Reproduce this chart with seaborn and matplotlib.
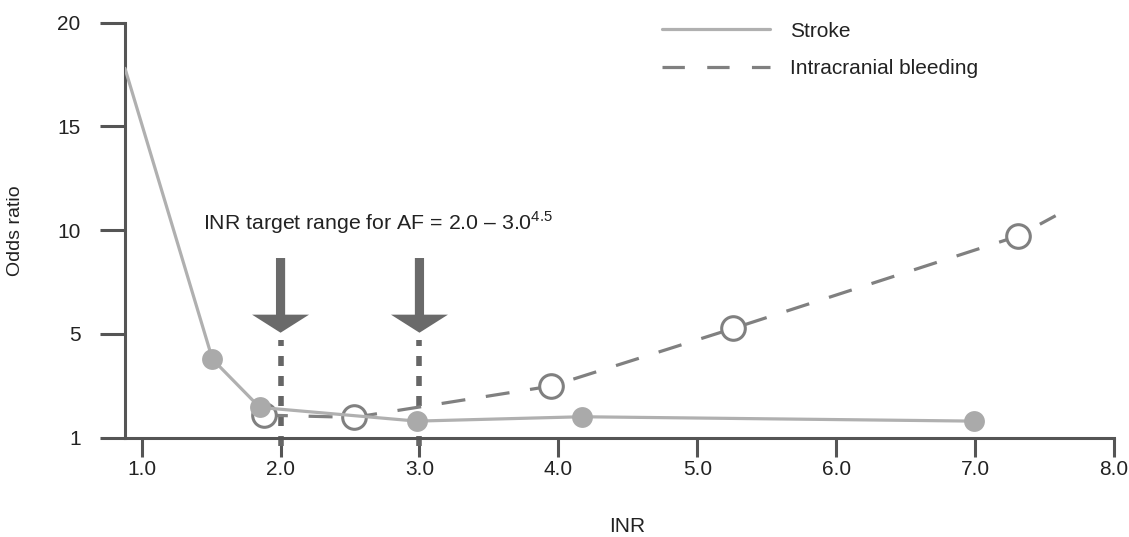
import matplotlib
matplotlib.use('Agg')
import matplotlib.pyplot as plt
from matplotlib.lines import Line2D
import seaborn as sns
import pandas as pd

# 数据：卒中与颅内出血的比值比
stroke_inr = [0.88, 1.51, 1.85, 2.98, 4.17, 6.99]
stroke_or = [17.8, 3.78, 1.46, 0.80, 1.01, 0.80]
bleed_inr = [1.88, 2.53, 3.95, 5.26, 7.31, 7.58]
bleed_or = [1.09, 0.98, 2.49, 5.27, 9.72, 10.7]
target_inr = [2.0, 3.0]
x_ticks = [1.0, 2.0, 3.0, 4.0, 5.0, 6.0, 7.0, 8.0]
y_ticks = [0, 5, 10, 15, 20]
y_ticklabels = ['1', '5', '10', '15', '20']

sns.set_theme(style='white')
plt.rcParams['font.family'] = ['Liberation Sans', 'DejaVu Sans']
plt.rcParams['mathtext.fontset'] = 'custom'
plt.rcParams['mathtext.rm'] = 'Liberation Sans'

axis_col = '#555555'
stroke_col = '#b0b0b0'
bleed_col = '#808080'
arrow_col = '#6a6a6a'

fig = plt.figure(figsize=(11.29, 5.37), dpi=100)
ax = fig.add_axes([0.1107, 0.1849, 0.876, 0.7728])

stroke_df = pd.DataFrame({'INR': stroke_inr, 'OR': stroke_or})
bleed_df = pd.DataFrame({'INR': bleed_inr, 'OR': bleed_or})

# 目标范围的虚线和箭头
for x in target_inr:
    ax.plot([x, x], [-0.4, 4.7], color='#666666', lw=4, dashes=(1.8, 1.8),
            clip_on=False, zorder=1, solid_capstyle='butt')
    ax.arrow(x, 8.66, 0, -3.6, width=0.066, head_width=0.41, head_length=0.87,
             length_includes_head=True, color=arrow_col, lw=0, zorder=2)

# 颅内出血：虚线 + 空心圆
sns.lineplot(data=bleed_df, x='INR', y='OR', ax=ax, color=bleed_col, lw=2.3,
             dashes=False, linestyle=(0, (7.5, 6.5)), marker='o', markersize=17,
             markerfacecolor='white', markeredgecolor=bleed_col, markeredgewidth=2.2,
             markevery=[0, 1, 2, 3, 4], zorder=3)

# 卒中：实线 + 实心点
sns.lineplot(data=stroke_df, x='INR', y='OR', ax=ax, color=stroke_col, lw=2.3,
             marker='o', markersize=15, markerfacecolor='#aaaaaa',
             markeredgewidth=0, markevery=[1, 2, 3, 4, 5], zorder=4)

ax.text(1.44, 10.04, 'INR target range for AF = 2.0 \u2013 3.0$^{\\mathregular{4.5}}$',
        fontsize=15.3, color='#222222', va='baseline', ha='left')

ax.set_xlim(0.88, 8.0)
ax.set_ylim(0, 20)
ax.set_xticks(x_ticks)
ax.set_xticklabels([f'{v:.1f}' for v in x_ticks])
ax.set_yticks(y_ticks)
ax.set_yticklabels(y_ticklabels)

sns.despine(ax=ax)
for side in ['left', 'bottom']:
    ax.spines[side].set_color(axis_col)
    ax.spines[side].set_linewidth(2.2)
ax.tick_params(axis='y', length=18, width=2.2, color=axis_col, pad=14,
               labelsize=15, labelcolor='#222222', left=True)
ax.tick_params(axis='x', length=13.7, width=2.2, color=axis_col, pad=2,
               labelsize=15, labelcolor='#222222', bottom=True)

ax.set_xlabel('INR', fontsize=15, color='#222222')
ax.set_ylabel('Odds ratio', fontsize=14, color='#222222')
ax.xaxis.set_label_coords(0.508, -0.19)
ax.yaxis.set_label_coords(-0.102, 0.5)

# 图例
handles = [Line2D([], [], color=stroke_col, lw=2.3),
           Line2D([], [], color=bleed_col, lw=2.3, linestyle=(0, (7, 7)))]
fig.legend(handles, ['Stroke', 'Intracranial bleeding'], loc='upper left',
           bbox_to_anchor=(662 / 1129, 0.9598), frameon=False, fontsize=15,
           handlelength=5.2, handletextpad=0.96, labelspacing=0.875,
           borderpad=0, borderaxespad=0, labelcolor='#222222')

fig.savefig('out.png', dpi=100)
